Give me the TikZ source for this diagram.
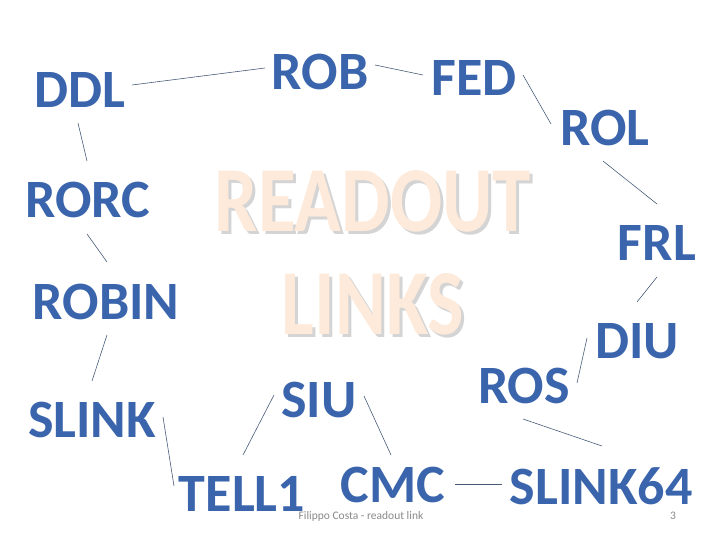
\documentclass[tikz,border=0pt]{standalone}
\usepackage{fontspec}
\setmainfont{Carlito}
\newfontfamily\titlefont{Carlito}[FakeStretch=0.83]
\usepackage{tikz}
\usetikzlibrary{positioning,calc}
\definecolor{wordblue}{RGB}{58,100,172}
\definecolor{linkline}{RGB}{72,92,122}
\definecolor{titlepeach}{RGB}{253,234,218}
\definecolor{titleshadow}{RGB}{212,212,212}
\definecolor{footgray}{RGB}{137,137,137}
\newcommand{\shadowed}[1]{\rlap{\kern3pt\raisebox{-3pt}{\textcolor{titleshadow}{#1}}}#1}

\begin{document}
\begin{tikzpicture}[
    x=1pt, y=-1pt,
    word/.style={font=\bfseries\fontsize{54}{54}\selectfont, text=wordblue, inner sep=0pt},
    title/.style={font=\titlefont\bfseries\fontsize{93}{93}\selectfont, text=titlepeach, inner sep=0pt},
    foot/.style={font=\fontsize{11.5}{12}\selectfont, text=footgray, inner sep=0pt},
    link/.style={draw=linkline, line width=0.6pt},
]
    \useasboundingbox (0,0) rectangle (720,540);

    % Title
    \node[title] (readout) at (373,203) {\shadowed{READOUT}};
    \node[title] (links) at (373,306) {\shadowed{LINKS}};

    % Top row
    \node[word] (ddl) at (80,90) {DDL};
    \node[word] (rob) at (320,72) {ROB};
    \node[word] (fed) at (474,78) {FED};
    \node[word] (rol) at (605,128) {ROL};
    % Right side
    \node[word] (frl) at (657,243) {FRL};
    \node[word] (diu) at (637,341) {DIU};
    \node[word] (ros) at (524,386) {ROS};
    % Bottom row
    \node[word] (slink64) at (601,486) {SLINK64};
    \node[word] (cmc) at (393,485) {CMC};
    \node[word] (siu) at (319,400) {SIU};
    \node[word] (tell) at (242,494) {TELL1};
    % Left side
    \node[word] (slink) at (92,420) {SLINK};
    \node[word] (robin) at (106,302) {ROBIN};
    \node[word] (rorc) at (88,200) {RORC};

    % Links
    \draw[link] ([shift={(52,-5)}]ddl.center) -- ([shift={(-55,-4)}]rob.center);
    \draw[link] ([shift={(55,-7)}]rob.center) -- ([shift={(-51,-3)}]fed.center);
    \draw[link] ([shift={(49,-3)}]fed.center) -- ([shift={(-54,-4)}]rol.center);
    \draw[link] ([shift={(-2,33)}]rol.center) -- ([shift={(0,-39)}]frl.center);
    \draw[link] ([shift={(0,34)}]frl.center) -- ([shift={(0,-39)}]diu.center);
    \draw[link] ([shift={(-50,-3)}]diu.center) -- ([shift={(53,-3)}]ros.center);
    \draw[link] ([shift={(-1,33)}]ros.center) -- ([shift={(1,-40)}]slink64.center);
    \draw[link] ([shift={(-99,-2)}]slink64.center) -- ([shift={(62,-1)}]cmc.center);
    \draw[link] ([shift={(-2,-30)}]cmc.center) -- ([shift={(45,-4)}]siu.center);
    \draw[link] ([shift={(-45,-5)}]siu.center) -- ([shift={(1,-39)}]tell.center);
    \draw[link] ([shift={(-68,-8)}]tell.center) -- ([shift={(71,-3)}]slink.center);
    \draw[link] ([shift={(0,-39)}]slink.center) -- ([shift={(1,33)}]robin.center);
    \draw[link] ([shift={(1,-40)}]robin.center) -- ([shift={(-1,34)}]rorc.center);
    \draw[link] ([shift={(-1,-39)}]rorc.center) -- ([shift={(-2,33)}]ddl.center);

    % Footer
    \node[foot] (footer) at (361,516) {Filippo Costa - readout link};
    \node[foot] (pagenum) at (673,516) {3};
\end{tikzpicture}
\end{document}
